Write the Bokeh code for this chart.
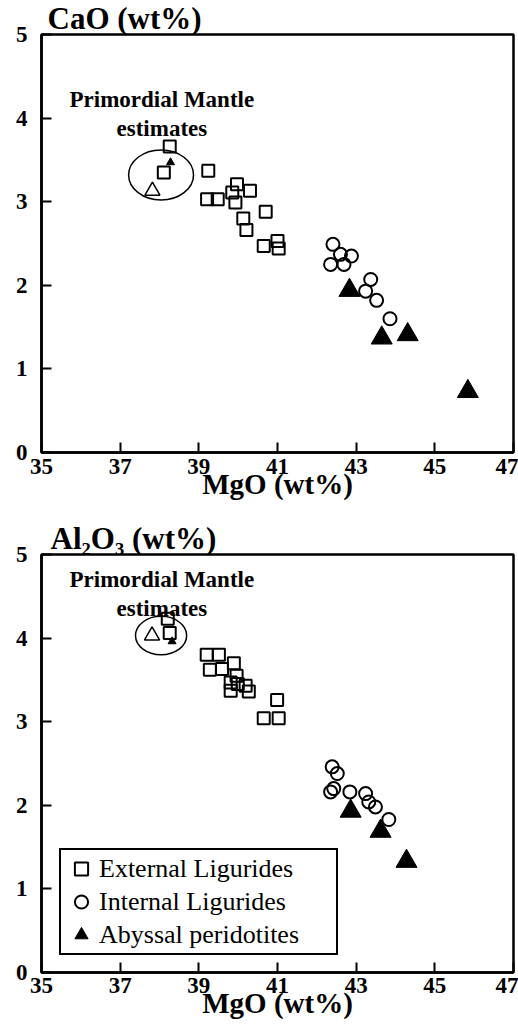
from bokeh.plotting import figure
from bokeh.models import Label, Legend, LegendItem, Range1d, FixedTicker
from bokeh.layouts import column
from bokeh.embed import file_html
from bokeh.resources import INLINE

# ---------------- data ----------------
mgo_ticks = [35, 37, 39, 41, 43, 45, 47]
oxide_ticks = [0, 1, 2, 3, 4, 5]

# CaO vs MgO panel
ext_mgo_ca = [39.24, 39.21, 39.48, 39.97, 40.30, 39.85, 39.93, 40.70, 40.13, 40.21, 40.65, 41.00, 41.03]
ext_cao = [3.37, 3.03, 3.03, 3.21, 3.13, 3.11, 2.99, 2.88, 2.80, 2.66, 2.47, 2.53, 2.44]
int_mgo_ca = [42.41, 42.60, 42.88, 42.35, 42.69, 43.37, 43.24, 43.52, 43.86]
int_cao = [2.49, 2.37, 2.35, 2.25, 2.25, 2.07, 1.93, 1.82, 1.60]
aby_mgo_ca = [42.83, 43.65, 44.31, 45.84]
aby_cao = [1.94, 1.37, 1.41, 0.73]
pm_sq_mgo_ca = [38.26, 38.11]
pm_sq_cao = [3.66, 3.35]
pm_tri_mgo_ca = [37.82]
pm_tri_cao = [3.13]
pm_dot_mgo_ca = [38.28]
pm_dot_cao = [3.47]
ell_ca = dict(x=[38.04], y=[3.32], w=[1.65], h=[0.60])

# Al2O3 vs MgO panel
ext_mgo_al = [39.20, 39.51, 39.28, 39.59, 39.89, 39.96, 39.81, 39.99, 40.19, 40.27, 39.81, 40.99, 40.65, 41.03]
ext_al = [3.80, 3.80, 3.62, 3.63, 3.70, 3.55, 3.47, 3.45, 3.43, 3.36, 3.37, 3.26, 3.04, 3.04]
int_mgo_al = [42.39, 42.52, 42.43, 42.35, 42.84, 43.24, 43.32, 43.49, 43.83]
int_al = [2.46, 2.38, 2.20, 2.16, 2.16, 2.14, 2.04, 1.98, 1.83]
aby_mgo_al = [42.86, 43.62, 44.28]
aby_al = [1.93, 1.69, 1.33]
pm_sq_mgo_al = [38.21, 38.26]
pm_sq_al = [4.23, 4.06]
pm_tri_mgo_al = [37.81]
pm_tri_al = [4.03]
pm_dot_mgo_al = [38.32]
pm_dot_al = [3.96]
ell_al = dict(x=[38.04], y=[4.03], w=[1.30], h=[0.46])

legend_labels = ["External Ligurides", "Internal Ligurides", "Abyssal peridotites"]

SERIF = "Liberation Serif"


def make_fig(height, top, bottom, title, tick_standoff, label_standoff):
    p = figure(width=518, height=height, x_range=Range1d(35, 47), y_range=Range1d(0, 5),
               output_backend="svg", toolbar_location=None, title=title,
               min_border_left=41, min_border_right=5, min_border_top=top, min_border_bottom=bottom)
    p.grid.visible = False
    p.outline_line_color = "black"
    p.outline_line_width = 2.5
    p.outline_line_alpha = 1.0
    p.background_fill_color = "white"
    p.border_fill_color = "white"
    p.title.align = "left"
    p.title.offset = 6
    p.title.standoff = -3
    p.title.text_font = SERIF
    p.title.text_font_style = "bold"
    p.title.text_font_size = "31px"
    p.title.text_color = "black"
    for ax in (p.xaxis[0], p.yaxis[0]):
        ax.major_tick_in = 10
        ax.major_tick_out = 0
        ax.minor_tick_line_color = None
        ax.axis_line_width = 2.5
        ax.major_tick_line_width = 2
        ax.major_label_text_font = SERIF
        ax.major_label_text_font_style = "bold"
        ax.major_label_text_font_size = "23px"
        ax.major_label_text_color = "black"
    p.xaxis.ticker = FixedTicker(ticks=mgo_ticks)
    p.yaxis.ticker = FixedTicker(ticks=oxide_ticks)
    p.xaxis.major_label_standoff = tick_standoff
    p.yaxis.major_label_standoff = 14
    p.xaxis.axis_label = "MgO (wt%)"
    p.xaxis.axis_label_text_font = SERIF
    p.xaxis.axis_label_text_font_style = "bold"
    p.xaxis.axis_label_text_font_size = "29px"
    p.xaxis.axis_label_text_color = "black"
    p.xaxis.axis_label_standoff = label_standoff
    return p


def add_points(p, ext_x, ext_y, int_x, int_y, aby_x, aby_y, sqx, sqy, trx, try_, dx, dy, ell):
    p.ellipse(x=ell["x"], y=ell["y"], width=ell["w"], height=ell["h"],
              fill_color=None, line_color="black", line_width=1.5)
    p.scatter(sqx, sqy, marker="square", size=12, fill_color=None, line_color="black", line_width=2)
    p.scatter(trx, try_, marker="triangle", size=15, fill_color=None, line_color="black", line_width=1.5)
    p.scatter(dx, dy, marker="triangle", size=8, fill_color="black", line_color="black")
    r_ext = p.scatter(ext_x, ext_y, marker="square", size=12, fill_color=None, line_color="black", line_width=2)
    r_int = p.scatter(int_x, int_y, marker="circle", size=13, fill_color=None, line_color="black", line_width=2)
    r_aby = p.scatter(aby_x, aby_y, marker="triangle", size=21, fill_color="black", line_color="black")
    return r_ext, r_int, r_aby


def add_pm_text(p, pm_y1, pm_y2):
    common = dict(text_font=SERIF, text_font_style="bold", text_color="black",
                  text_align="center", text_baseline="alphabetic", text_font_size="23px")
    p.add_layout(Label(x=38.06, y=pm_y1, text="Primordial Mantle", **common))
    p.add_layout(Label(x=38.06, y=pm_y2, text="estimates", **common))


# top panel: CaO
p1 = make_fig(510, 33, 58, "CaO (wt%)", 6, -9)
add_points(p1, ext_mgo_ca, ext_cao, int_mgo_ca, int_cao, aby_mgo_ca, aby_cao,
           pm_sq_mgo_ca, pm_sq_cao, pm_tri_mgo_ca, pm_tri_cao, pm_dot_mgo_ca, pm_dot_cao, ell_ca)
add_pm_text(p1, 4.22, 3.88)

# bottom panel: Al2O3
p2 = make_fig(516, 44, 54, "Al\u2082O\u2083 (wt%)", 5, -9)
p2.title.offset = 9
r_ext, r_int, r_aby = add_points(p2, ext_mgo_al, ext_al, int_mgo_al, int_al, aby_mgo_al, aby_al,
                                 pm_sq_mgo_al, pm_sq_al, pm_tri_mgo_al, pm_tri_al, pm_dot_mgo_al, pm_dot_al, ell_al)
add_pm_text(p2, 4.70, 4.35)

legend = Legend(items=[LegendItem(label=legend_labels[0], renderers=[r_ext]),
                       LegendItem(label=legend_labels[1], renderers=[r_int]),
                       LegendItem(label=legend_labels[2], renderers=[r_aby])],
                location=(18, 17), orientation="vertical",
                border_line_color="black", border_line_width=2.5, border_line_alpha=1.0,
                background_fill_color="white", background_fill_alpha=1.0,
                padding=2, spacing=0, margin=0,
                glyph_width=36, glyph_height=33, label_standoff=0, label_width=235,
                label_text_font=SERIF, label_text_font_size="26px", label_text_color="black")
p2.add_layout(legend, "center")

layout = column(p1, p2, spacing=0)
open("out.html", "w").write(file_html(layout, INLINE))
